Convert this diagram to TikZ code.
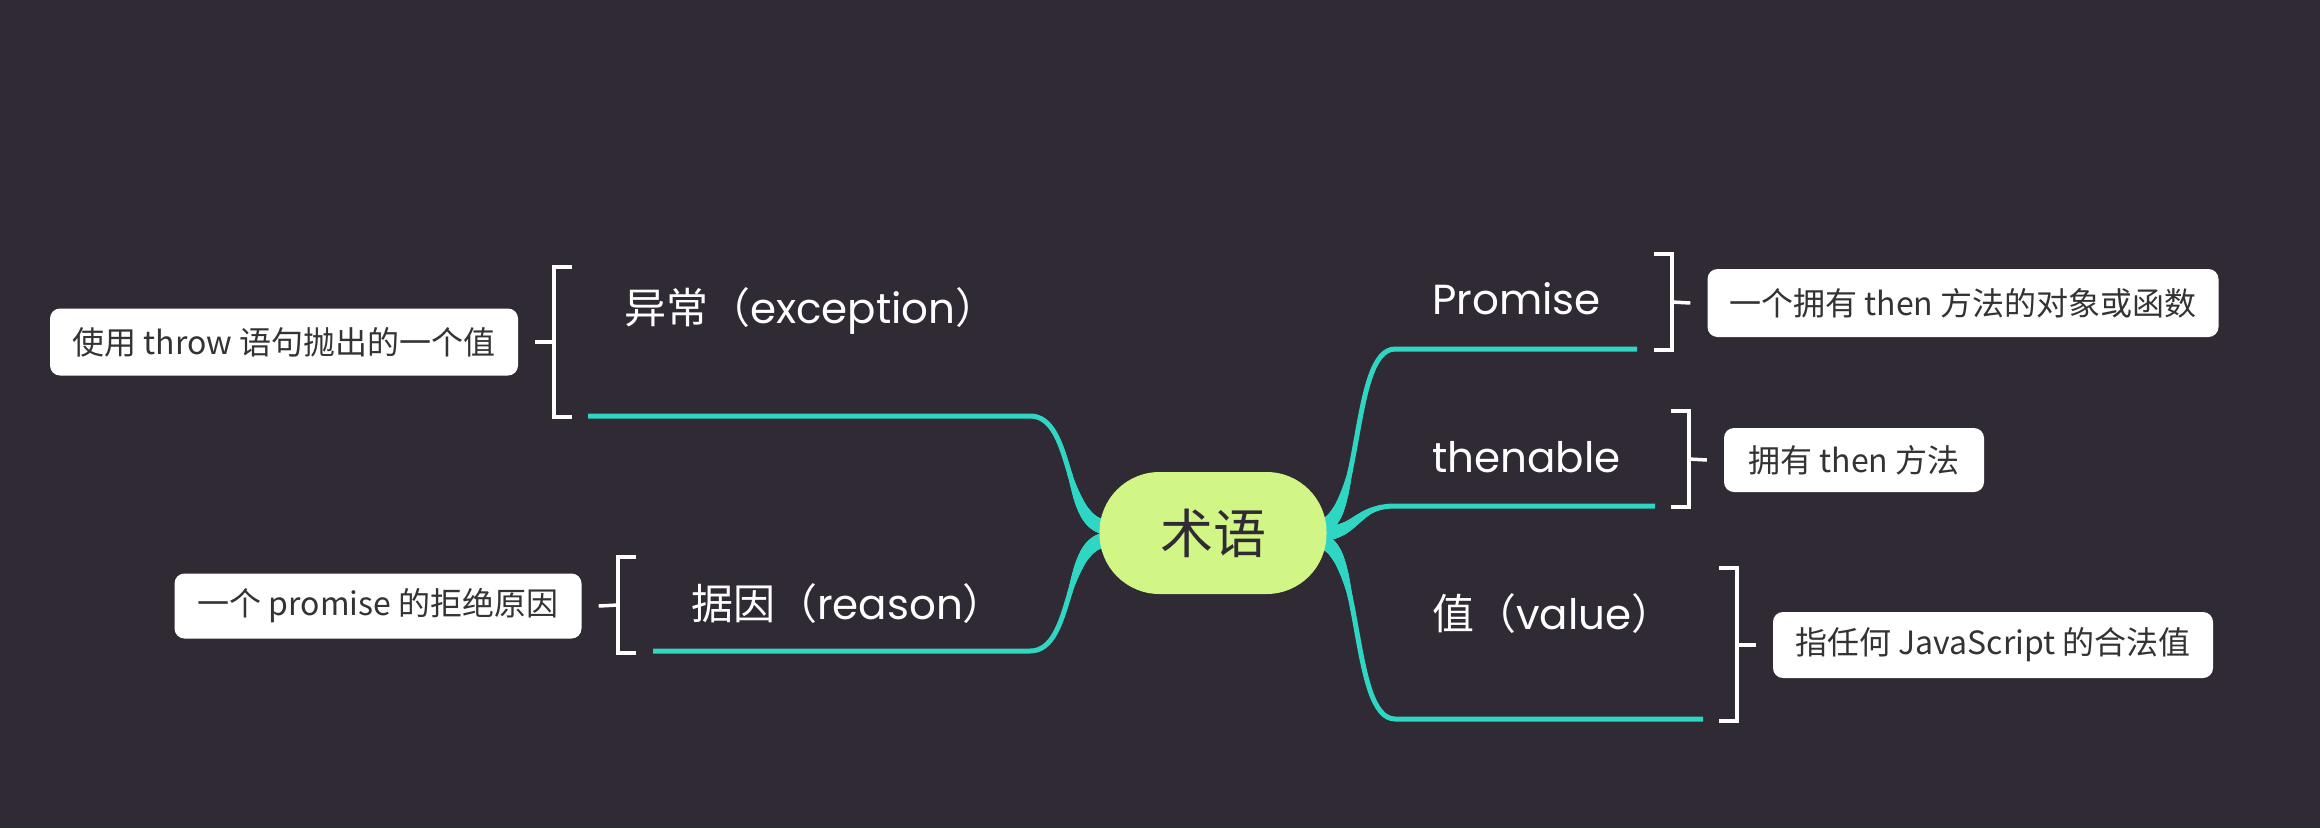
\documentclass[tikz,border=0pt]{standalone}
\usepackage{fontspec}
\setmainfont{Poppins}
\newfontfamily\cjk{Noto Sans CJK SC}
\usetikzlibrary{decorations.markings}
\definecolor{bgcol}{HTML}{2F2A33}
\definecolor{brcol}{HTML}{2ED6C3}
\definecolor{rootgreen}{HTML}{D2F685}
\definecolor{boxtext}{HTML}{333333}
\pgfdeclarelayer{back}
\pgfdeclarelayer{mid}
\pgfsetlayers{back,mid,main}
\begin{document}
\begin{tikzpicture}[x=1pt,y=-1pt,
  lbl/.style={text=white, inner sep=0pt, anchor=west, font=\fontsize{42}{50}\selectfont},
  box/.style={fill=white, rounded corners=10pt, text=boxtext, inner sep=0pt, font=\cjk\fontsize{32}{38}\selectfont},
  brk/.style={draw=white, line width=3.5pt},
  branch/.style={draw=brcol, line width=5pt,
    postaction={decorate, decoration={markings,
      mark=between positions 0pt and 70pt step 1pt with {%
        \pgfmathsetmacro\rr{max(2.5,8-0.085*\pgfkeysvalueof{/pgf/decoration/mark info/distance from start})}%
        \fill[brcol] (0,0) circle (\rr pt);}}}},
  rootst/.style={fill=rootgreen, rounded corners=60pt, minimum width=227pt, minimum height=122pt, inner sep=0pt, text=bgcol, font=\cjk\fontsize{53}{60}\selectfont}
]
\begin{pgfonlayer}{back}
\fill[bgcol] (0,0) rectangle (2320,828);
\end{pgfonlayer}
\useasboundingbox (0,0) rectangle (2320,828);

% root
\node[rootst] (root) at (1213,533) {术语};

% labels
\node[lbl] (exc) at (624,311) {{\cjk 异常（}exception{\cjk ）}};
\node[lbl] (rea) at (691,604) {{\cjk 据因（}reason{\cjk ）}};
\node[lbl] (pro) at (1432,299) {Promise};
\node[lbl] (the) at (1432,457) {thenable};
\node[lbl] (val) at (1432,614) {{\cjk 值（}value{\cjk ）}};

% boxes
\node[box, minimum width=468pt, minimum height=67pt] (bexc) at (284,342) {使用 throw 语句抛出的一个值};
\node[box, minimum width=407pt, minimum height=65pt] (brea) at (378,606) {一个 promise 的拒绝原因};
\node[box, minimum width=511pt, minimum height=68pt] (bpro) at (1963,303) {一个拥有 then 方法的对象或函数};
\node[box, minimum width=260pt, minimum height=64pt] (bthe) at (1854,460) {拥有 then 方法};
\node[box, minimum width=440pt, minimum height=66pt] (bval) at (1993,645) {指任何 JavaScript 的合法值};

% branch coordinates
\coordinate (s1) at (1108,527); \coordinate (j1) at (1030,416); \coordinate (e1) at (588,416);
\coordinate (s2) at (1108,540); \coordinate (j2) at (1030,651); \coordinate (e2) at (653,651);
\coordinate (s3) at (1318,527); \coordinate (j3) at (1395,349); \coordinate (e3) at (1637,349);
\coordinate (s4) at (1318,534); \coordinate (j4) at (1395,506); \coordinate (e4) at (1655,506);
\coordinate (s5) at (1318,541); \coordinate (j5) at (1395,719); \coordinate (e5) at (1703,719);

\begin{pgfonlayer}{mid}
\draw[branch] (s1) .. controls +(-45,0) and +(45,0) .. (j1) -- (e1);
\draw[branch] (s2) .. controls +(-45,0) and +(45,0) .. (j2) -- (e2);
\draw[branch] (s3) .. controls +(45,0) and +(-45,0) .. (j3) -- (e3);
\draw[branch] (s4) .. controls +(40,0) and +(-40,0) .. (j4) -- (e4);
\draw[branch] (s5) .. controls +(45,0) and +(-45,0) .. (j5) -- (e5);
\end{pgfonlayer}

% brackets
\coordinate (m1) at (554,342);
\draw[brk] (572,267) -- (554,267) -- (554,417) -- (572,417);
\draw[brk] (m1) -- ([xshift=17pt]bexc.east);
\coordinate (m2) at (618,605);
\draw[brk] (636,557) -- (618,557) -- (618,653) -- (636,653);
\draw[brk] (m2) -- ([xshift=17pt]brea.east);
\coordinate (m3) at (1672,302);
\draw[brk] (1654,254) -- (1672,254) -- (1672,350) -- (1654,350);
\draw[brk] (m3) -- ([xshift=-17pt]bpro.west);
\coordinate (m4) at (1689,459);
\draw[brk] (1671,411) -- (1689,411) -- (1689,507) -- (1671,507);
\draw[brk] (m4) -- ([xshift=-17pt]bthe.west);
\coordinate (m5) at (1737,645);
\draw[brk] (1719,568) -- (1737,568) -- (1737,721) -- (1719,721);
\draw[brk] (m5) -- ([xshift=-17pt]bval.west);
\end{tikzpicture}
\end{document}
